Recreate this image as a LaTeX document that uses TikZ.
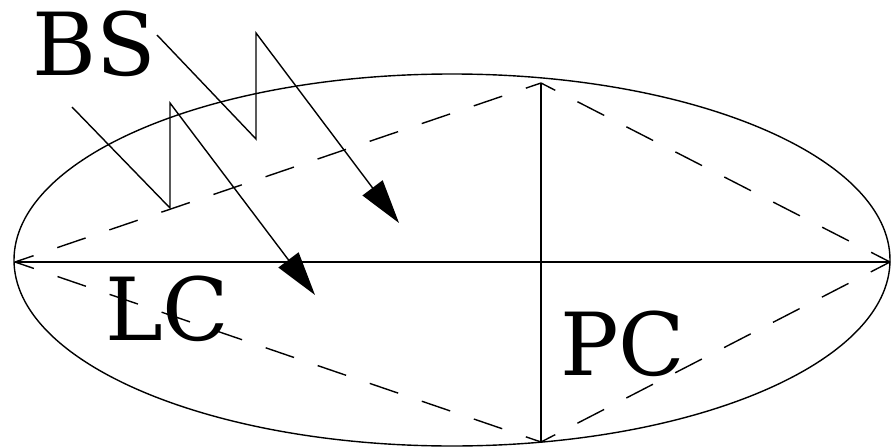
\documentclass[tikz,border=0pt]{standalone}
\usepackage{fontspec}
\newfontfamily\labelfam{DejaVu Serif}
\usetikzlibrary{arrows.meta,shapes.geometric}
\begin{document}
\begin{tikzpicture}[x=1pt,y=-1pt,
  axis/.style={line width=1.8pt},
  outline/.style={line width=1.4pt},
  dashside/.style={line width=1.4pt,dash pattern=on 30pt off 25pt,dash phase=14pt},
  ray/.style={line width=1.4pt,line join=miter,-{Triangle[length=44pt,width=25pt]}},
  lbl/.style={inner sep=0pt,anchor=base west,text height=0.74em,text depth=0pt,font=\labelfam\fontsize{87}{87}\selectfont}]
\useasboundingbox (0,0) rectangle (892,447);
\node[outline,draw,ellipse,minimum width=876pt,minimum height=372pt,inner sep=0pt] (E) at (452,260) {};
\coordinate (L) at (15,262);
\coordinate (R) at (890,262);
\coordinate (T) at (541,83);
\coordinate (B) at (541,442);
\draw[axis] (L) -- (R);
\draw[axis] (T) -- (B);
\draw[dashside] (T) -- (L);
\draw[dashside] (T) -- (R);
\draw[dashside] (B) -- (L);
\draw[dashside] (B) -- (R);
\coordinate (a0) at (72,107);
\coordinate (a1) at (170,208);
\coordinate (a2) at (170,103);
\coordinate (a3) at (315,295);
\draw[ray] (a0) -- (a1) -- (a2) -- (a3);
\coordinate (b0) at (157,35);
\coordinate (b1) at (256,139);
\coordinate (b2) at (256,33);
\coordinate (b3) at (399,223);
\draw[ray] (b0) -- (b1) -- (b2) -- (b3);
\node[lbl] (BS) at (32,75) {BS};
\node[lbl] (LC) at (105,340) {LC};
\node[lbl] (PC) at (560,375) {PC};
\end{tikzpicture}
\end{document}
